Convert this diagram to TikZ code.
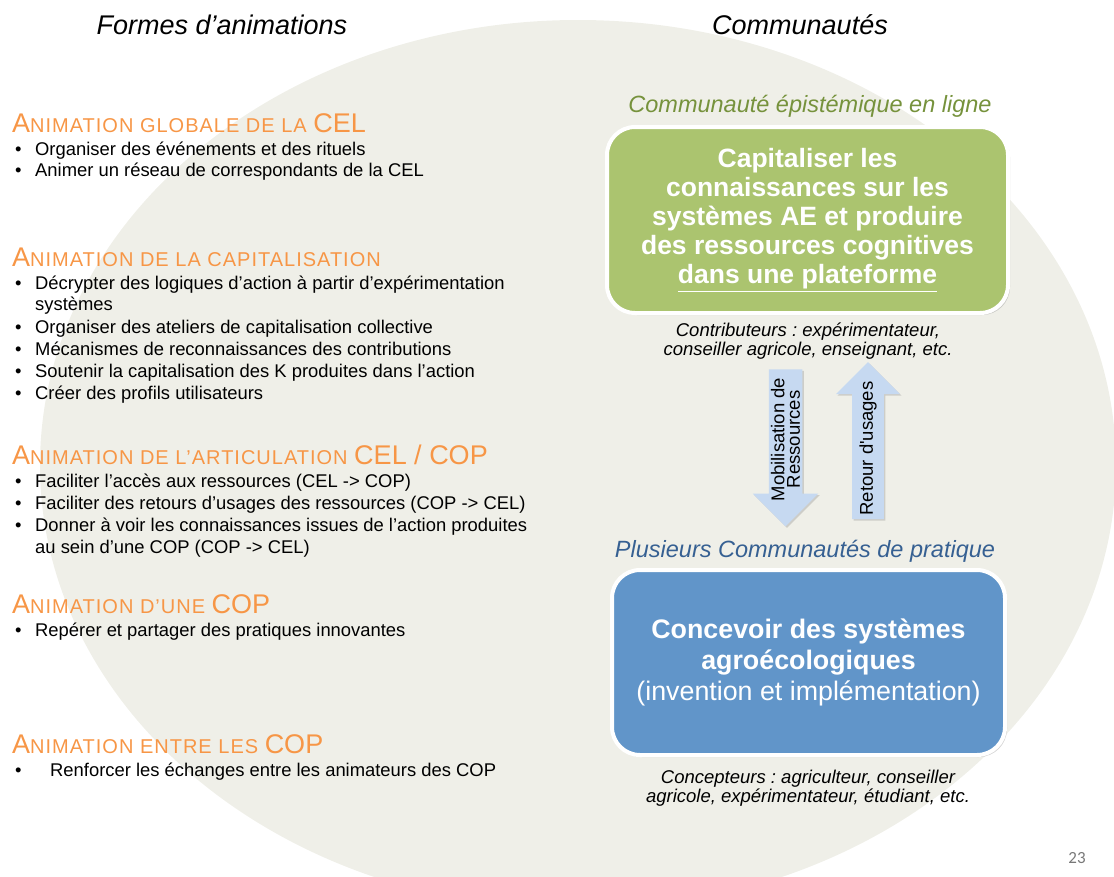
\documentclass[tikz,border=0pt]{standalone}
\usepackage{fontspec}
\setmainfont{Liberation Sans}
\newfontfamily\pagefont{Carlito}
\newfontfamily\capfont[LetterSpace=5]{Liberation Sans}
\usetikzlibrary{shapes.arrows,shadows}
\frenchspacing

\definecolor{bgfill}{RGB}{239,239,232}
\definecolor{headorange}{RGB}{247,150,70}
\definecolor{celgreen}{RGB}{118,146,60}
\definecolor{celfill}{RGB}{171,196,111}
\definecolor{copblue}{RGB}{54,96,146}
\definecolor{copfill}{RGB}{97,149,201}
\definecolor{arrowfill}{RGB}{198,217,241}
\definecolor{pagegray}{RGB}{120,120,120}

\newcommand\capbig[1]{{\fontsize{27}{30}\selectfont #1}}
\newcommand\capsmall[1]{{\capfont\fontsize{20}{24}\selectfont #1}}
\newcommand\bul{\makebox[20pt][l]{•}}

\tikzset{
  heading/.style={anchor=base west, inner sep=0pt, text=headorange},
  item/.style={anchor=base west, inner sep=0pt, font=\fontsize{18.4}{22}\selectfont},
  title/.style={font=\fontsize{27}{31}\selectfont\itshape},
  subtitle/.style={font=\fontsize{23.5}{27}\selectfont\itshape},
  note/.style={align=center, inner sep=0pt, font=\fontsize{18.5}{19}\selectfont\itshape},
  bigbox/.style={draw=white, line width=4pt, rounded corners=28pt, text=white, align=center,
    drop shadow={opacity=0.35, shadow xshift=2pt, shadow yshift=-2pt}},
  blockarrow/.style={single arrow, rotate=90, fill=arrowfill, align=center, inner xsep=0.5pt,
    font=\fontsize{18.5}{15.5}\selectfont, minimum height=157pt, minimum width=64pt,
    single arrow head extend=16pt,
    drop shadow={opacity=0.3, shadow xshift=1.5pt, shadow yshift=-1.5pt}}
}

\begin{document}
\begin{tikzpicture}[x=1pt,y=-1pt]

\useasboundingbox (0,0) rectangle (1114,876);
\fill[bgfill] (578,465) ellipse [x radius=538pt, y radius=445pt];

\node [title] (tleft) at (222,25) {Formes d’animations};
\node [title] (tright) at (800,25) {Communautés};

% left column
\node [heading] (h1) at (12,132) {\capbig{A}\capsmall{NIMATION GLOBALE DE LA }\capbig{CEL}};
\node [item] (i11) at (15,155) {\bul Organiser des événements et des rituels};
\node [item] (i12) at (15,176) {\bul Animer un réseau de correspondants de la CEL};

\node [heading] (h2) at (12,266) {\capbig{A}\capsmall{NIMATION DE LA CAPITALISATION}};
\node [item] (i21) at (15,289) {\bul Décrypter des logiques d’action à partir d’expérimentation};
\node [item] (i21b) at (35,310) {systèmes};
\node [item] (i22) at (15,333) {\bul Organiser des ateliers de capitalisation collective};
\node [item] (i23) at (15,355) {\bul Mécanismes de reconnaissances des contributions};
\node [item] (i24) at (15,377) {\bul Soutenir la capitalisation des K produites dans l’action};
\node [item] (i25) at (15,399) {\bul Créer des profils utilisateurs};

\node [heading] (h3) at (12,464) {\capbig{A}\capsmall{NIMATION DE L’ARTICULATION }\capbig{CEL / COP}};
\node [item] (i31) at (15,487) {\bul Faciliter l’accès aux ressources (CEL -> COP)};
\node [item] (i32) at (15,509) {\bul Faciliter des retours d’usages des ressources (COP -> CEL)};
\node [item] (i33) at (15,531) {\bul Donner à voir les connaissances issues de l’action produites};
\node [item] (i33b) at (35,553) {au sein d’une COP (COP -> CEL)};

\node [heading] (h4) at (12,613) {\capbig{A}\capsmall{NIMATION D’UNE }\capbig{COP}};
\node [item] (i41) at (15,636) {\bul Repérer et partager des pratiques innovantes};

\node [heading] (h5) at (12,753) {\capbig{A}\capsmall{NIMATION ENTRE LES }\capbig{COP}};
\node [item] (i51) at (15,776) {\makebox[35pt][l]{•}Renforcer les échanges entre les animateurs des COP};

% right column
\node [subtitle, text=celgreen] (celtitle) at (810,106) {Communauté épistémique en ligne};
\node [bigbox, fill=celfill, minimum width=401pt, minimum height=186pt,
  font=\fontsize{26.5}{29}\selectfont\bfseries] (cel) at (807.5,220)
  {Capitaliser les\\connaissances sur les\\systèmes AE et produire\\des ressources cognitives\\\underline{dans une plateforme}};
\node [note] (contrib) at (808,341) {Contributeurs : expérimentateur,\\conseiller agricole, enseignant, etc.};

\node [blockarrow, inner ysep=2pt, shape border rotate=180] (mob) at (785.5,439.5) {Mobilisation de\\Ressources};
\node [blockarrow, inner ysep=6.8pt] (ret) at (868,448.5) {Retour d\textquotesingle usages};

\node [subtitle, text=copblue] (coptitle) at (805,551) {Plusieurs Communautés de pratique};
\node [bigbox, fill=copfill, minimum width=393pt, minimum height=185pt,
  font=\fontsize{26.8}{31}\selectfont] (cop) at (808.5,662.5)
  {\textbf{Concevoir des systèmes}\\\textbf{agroécologiques}\\(invention et implémentation)};
\node [note] (concept) at (808,788) {Concepteurs : agriculteur, conseiller\\agricole, expérimentateur, étudiant, etc.};

\node [text=pagegray, font=\pagefont\fontsize{17}{20}\selectfont] (num) at (1077,858) {23};

\end{tikzpicture}
\end{document}
